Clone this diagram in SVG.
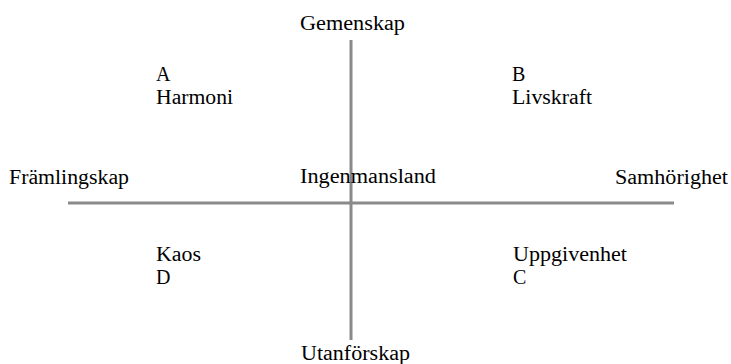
<svg xmlns="http://www.w3.org/2000/svg" width="731" height="364" viewBox="0 0 731 364">
<style>
text{font-family:'Liberation Serif','Times New Roman',serif;font-size:20px;fill:#000}
.axis{stroke:#8a8a8a;stroke-width:3;fill:none}
</style>
<rect width="731" height="364" fill="#fff"/>
<g id="connectors">
<line class="axis" x1="68" y1="203" x2="674" y2="203"/>
<line class="axis" x1="351" y1="40" x2="351" y2="340"/>
</g>
<g id="gemenskap"><text x="300" y="30" textLength="105" lengthAdjust="spacingAndGlyphs">Gemenskap</text></g>
<g id="utanforskap"><text x="301" y="360" textLength="109" lengthAdjust="spacingAndGlyphs">Utanförskap</text></g>
<g id="framlingskap"><text x="9" y="184" textLength="120" lengthAdjust="spacingAndGlyphs">Främlingskap</text></g>
<g id="samhorighet"><text x="615" y="184" textLength="113" lengthAdjust="spacingAndGlyphs">Samhörighet</text></g>
<g id="ingenmansland"><text x="300" y="183" textLength="136" lengthAdjust="spacingAndGlyphs">Ingenmansland</text></g>
<g id="a"><text x="156" y="81">A</text><text x="156" y="104" textLength="77" lengthAdjust="spacingAndGlyphs">Harmoni</text></g>
<g id="b"><text x="512" y="81">B</text><text x="512" y="104" textLength="80" lengthAdjust="spacingAndGlyphs">Livskraft</text></g>
<g id="d"><text x="156" y="261" textLength="45" lengthAdjust="spacingAndGlyphs">Kaos</text><text x="156" y="284">D</text></g>
<g id="c"><text x="513" y="261" textLength="114" lengthAdjust="spacingAndGlyphs">Uppgivenhet</text><text x="513" y="284">C</text></g>
</svg>
